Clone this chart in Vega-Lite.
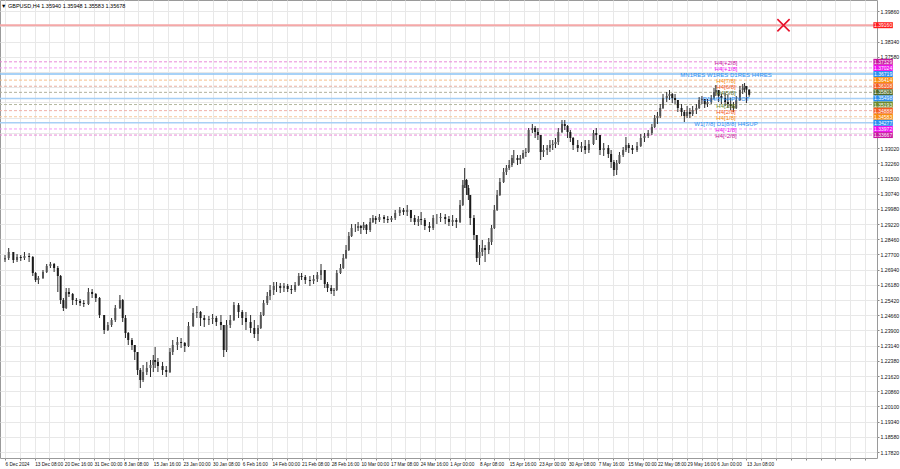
{
  "$schema": "https://vega.github.io/schema/vega-lite/v6.json",
  "width": 877,
  "height": 458,
  "autosize": {"type": "none"},
  "padding": {"left": 0, "top": 0, "right": 23, "bottom": 11},
  "background": "#ffffff",
  "config": {"view": {"stroke": "#9a9a9a", "strokeWidth": 1}, "font": "Liberation Sans"},
  "title": {"text": "▼ GBPUSD,H4  1.35940 1.35948 1.35583 1.35678", "anchor": "start", "orient": "top", "offset": -9, "fontSize": 5.5, "fontWeight": "normal", "font": "Liberation Sans", "color": "#000000", "dx": 2},
  "datasets": {
    "bars": [
      {"t":0,"o":1.2745,"h":1.2767,"l":1.2732,"c":1.2752},
      {"t":4,"o":1.2752,"h":1.2802,"l":1.2742,"c":1.2782},
      {"t":9,"o":1.2782,"h":1.2782,"l":1.2727,"c":1.2742},
      {"t":13,"o":1.2742,"h":1.2772,"l":1.2732,"c":1.2757},
      {"t":17,"o":1.2757,"h":1.2767,"l":1.2737,"c":1.2752},
      {"t":21,"o":1.2752,"h":1.2782,"l":1.2742,"c":1.2762},
      {"t":26,"o":1.2762,"h":1.2777,"l":1.2732,"c":1.2757},
      {"t":30,"o":1.2757,"h":1.2762,"l":1.2662,"c":1.2677},
      {"t":33,"o":1.2677,"h":1.2682,"l":1.2632,"c":1.2642},
      {"t":36,"o":1.2642,"h":1.2662,"l":1.2622,"c":1.2652},
      {"t":41,"o":1.2652,"h":1.2692,"l":1.2647,"c":1.2682},
      {"t":45,"o":1.2682,"h":1.2722,"l":1.2677,"c":1.2712},
      {"t":49,"o":1.2712,"h":1.2732,"l":1.2702,"c":1.2722},
      {"t":53,"o":1.2722,"h":1.2727,"l":1.2682,"c":1.2702},
      {"t":57,"o":1.2702,"h":1.2712,"l":1.2582,"c":1.2662},
      {"t":60,"o":1.2662,"h":1.2667,"l":1.2522,"c":1.2542},
      {"t":63,"o":1.2542,"h":1.2552,"l":1.2487,"c":1.2502},
      {"t":66,"o":1.2502,"h":1.2602,"l":1.2497,"c":1.2582},
      {"t":69,"o":1.2582,"h":1.2602,"l":1.2557,"c":1.2572},
      {"t":73,"o":1.2572,"h":1.2577,"l":1.2517,"c":1.2542},
      {"t":77,"o":1.2542,"h":1.2552,"l":1.2517,"c":1.2537},
      {"t":81,"o":1.2537,"h":1.2547,"l":1.2512,"c":1.2527},
      {"t":85,"o":1.2527,"h":1.2542,"l":1.2507,"c":1.2522},
      {"t":90,"o":1.2522,"h":1.2602,"l":1.2517,"c":1.2582},
      {"t":94,"o":1.2582,"h":1.2597,"l":1.2552,"c":1.2572},
      {"t":98,"o":1.2572,"h":1.2577,"l":1.2532,"c":1.2552},
      {"t":102,"o":1.2552,"h":1.2557,"l":1.2452,"c":1.2467},
      {"t":107,"o":1.2467,"h":1.2467,"l":1.2372,"c":1.2392},
      {"t":111,"o":1.2392,"h":1.2432,"l":1.2387,"c":1.2417},
      {"t":115,"o":1.2417,"h":1.2452,"l":1.2407,"c":1.2442},
      {"t":119,"o":1.2442,"h":1.2517,"l":1.2432,"c":1.2502},
      {"t":124,"o":1.2502,"h":1.2567,"l":1.2497,"c":1.2542},
      {"t":127,"o":1.2542,"h":1.2547,"l":1.2432,"c":1.2452},
      {"t":130,"o":1.2452,"h":1.2467,"l":1.2352,"c":1.2377},
      {"t":133,"o":1.2377,"h":1.2382,"l":1.2317,"c":1.2342},
      {"t":137,"o":1.2342,"h":1.2352,"l":1.2292,"c":1.2317},
      {"t":140,"o":1.2317,"h":1.2317,"l":1.2242,"c":1.2282},
      {"t":143,"o":1.2282,"h":1.2282,"l":1.2167,"c":1.2192},
      {"t":146,"o":1.2192,"h":1.2202,"l":1.2102,"c":1.2142},
      {"t":149,"o":1.2142,"h":1.2217,"l":1.2132,"c":1.2182},
      {"t":153,"o":1.2182,"h":1.2232,"l":1.2167,"c":1.2202},
      {"t":157,"o":1.2202,"h":1.2242,"l":1.2157,"c":1.2217},
      {"t":160,"o":1.2217,"h":1.2267,"l":1.2182,"c":1.2242},
      {"t":162,"o":1.2242,"h":1.2307,"l":1.2202,"c":1.2232},
      {"t":165,"o":1.2232,"h":1.2252,"l":1.2182,"c":1.2212},
      {"t":170,"o":1.2212,"h":1.2232,"l":1.2167,"c":1.2192},
      {"t":174,"o":1.2192,"h":1.2212,"l":1.2157,"c":1.2182},
      {"t":178,"o":1.2182,"h":1.2302,"l":1.2177,"c":1.2282},
      {"t":181,"o":1.2282,"h":1.2342,"l":1.2267,"c":1.2317},
      {"t":186,"o":1.2317,"h":1.2357,"l":1.2292,"c":1.2332},
      {"t":190,"o":1.2332,"h":1.2352,"l":1.2302,"c":1.2327},
      {"t":194,"o":1.2327,"h":1.2332,"l":1.2282,"c":1.2312},
      {"t":198,"o":1.2312,"h":1.2432,"l":1.2307,"c":1.2412},
      {"t":203,"o":1.2412,"h":1.2502,"l":1.2407,"c":1.2477},
      {"t":207,"o":1.2477,"h":1.2512,"l":1.2452,"c":1.2482},
      {"t":211,"o":1.2482,"h":1.2487,"l":1.2412,"c":1.2452},
      {"t":215,"o":1.2452,"h":1.2467,"l":1.2407,"c":1.2442},
      {"t":220,"o":1.2442,"h":1.2462,"l":1.2417,"c":1.2447},
      {"t":224,"o":1.2447,"h":1.2472,"l":1.2422,"c":1.2452},
      {"t":228,"o":1.2452,"h":1.2462,"l":1.2412,"c":1.2432},
      {"t":233,"o":1.2432,"h":1.2467,"l":1.2392,"c":1.2417},
      {"t":236,"o":1.2417,"h":1.2417,"l":1.2257,"c":1.2292},
      {"t":239,"o":1.2292,"h":1.2442,"l":1.2282,"c":1.2417},
      {"t":243,"o":1.2417,"h":1.2467,"l":1.2402,"c":1.2442},
      {"t":247,"o":1.2442,"h":1.2532,"l":1.2437,"c":1.2517},
      {"t":252,"o":1.2517,"h":1.2527,"l":1.2452,"c":1.2482},
      {"t":256,"o":1.2482,"h":1.2492,"l":1.2417,"c":1.2452},
      {"t":260,"o":1.2452,"h":1.2482,"l":1.2392,"c":1.2432},
      {"t":265,"o":1.2432,"h":1.2467,"l":1.2377,"c":1.2402},
      {"t":269,"o":1.2402,"h":1.2442,"l":1.2352,"c":1.2372},
      {"t":273,"o":1.2372,"h":1.2417,"l":1.2337,"c":1.2402},
      {"t":276,"o":1.2402,"h":1.2482,"l":1.2397,"c":1.2467},
      {"t":279,"o":1.2467,"h":1.2542,"l":1.2462,"c":1.2527},
      {"t":283,"o":1.2527,"h":1.2582,"l":1.2517,"c":1.2562},
      {"t":286,"o":1.2562,"h":1.2617,"l":1.2542,"c":1.2592},
      {"t":290,"o":1.2592,"h":1.2632,"l":1.2567,"c":1.2612},
      {"t":293,"o":1.2612,"h":1.2632,"l":1.2582,"c":1.2612},
      {"t":297,"o":1.2612,"h":1.2627,"l":1.2577,"c":1.2602},
      {"t":301,"o":1.2602,"h":1.2627,"l":1.2582,"c":1.2612},
      {"t":305,"o":1.2612,"h":1.2622,"l":1.2582,"c":1.2597},
      {"t":309,"o":1.2597,"h":1.2617,"l":1.2572,"c":1.2592},
      {"t":313,"o":1.2592,"h":1.2632,"l":1.2582,"c":1.2617},
      {"t":317,"o":1.2617,"h":1.2677,"l":1.2612,"c":1.2662},
      {"t":320,"o":1.2662,"h":1.2677,"l":1.2642,"c":1.2657},
      {"t":324,"o":1.2657,"h":1.2667,"l":1.2622,"c":1.2642},
      {"t":329,"o":1.2642,"h":1.2662,"l":1.2612,"c":1.2637},
      {"t":333,"o":1.2637,"h":1.2667,"l":1.2622,"c":1.2647},
      {"t":337,"o":1.2647,"h":1.2682,"l":1.2632,"c":1.2667},
      {"t":341,"o":1.2667,"h":1.2722,"l":1.2642,"c":1.2692},
      {"t":345,"o":1.2692,"h":1.2692,"l":1.2602,"c":1.2622},
      {"t":348,"o":1.2622,"h":1.2632,"l":1.2582,"c":1.2602},
      {"t":352,"o":1.2602,"h":1.2617,"l":1.2572,"c":1.2587},
      {"t":355,"o":1.2587,"h":1.2602,"l":1.2562,"c":1.2592},
      {"t":358,"o":1.2592,"h":1.2692,"l":1.2587,"c":1.2677},
      {"t":362,"o":1.2677,"h":1.2722,"l":1.2672,"c":1.2702},
      {"t":365,"o":1.2702,"h":1.2772,"l":1.2697,"c":1.2752},
      {"t":368,"o":1.2752,"h":1.2817,"l":1.2747,"c":1.2792},
      {"t":371,"o":1.2792,"h":1.2882,"l":1.2787,"c":1.2862},
      {"t":374,"o":1.2862,"h":1.2922,"l":1.2857,"c":1.2902},
      {"t":378,"o":1.2902,"h":1.2922,"l":1.2882,"c":1.2902},
      {"t":381,"o":1.2902,"h":1.2932,"l":1.2887,"c":1.2912},
      {"t":384,"o":1.2912,"h":1.2917,"l":1.2872,"c":1.2902},
      {"t":387,"o":1.2902,"h":1.2932,"l":1.2892,"c":1.2917},
      {"t":390,"o":1.2917,"h":1.2922,"l":1.2872,"c":1.2892},
      {"t":394,"o":1.2892,"h":1.2952,"l":1.2882,"c":1.2932},
      {"t":397,"o":1.2932,"h":1.2967,"l":1.2927,"c":1.2952},
      {"t":400,"o":1.2952,"h":1.2962,"l":1.2922,"c":1.2942},
      {"t":404,"o":1.2942,"h":1.2972,"l":1.2932,"c":1.2957},
      {"t":409,"o":1.2957,"h":1.2967,"l":1.2927,"c":1.2947},
      {"t":413,"o":1.2947,"h":1.2962,"l":1.2927,"c":1.2942},
      {"t":417,"o":1.2942,"h":1.2962,"l":1.2932,"c":1.2952},
      {"t":421,"o":1.2952,"h":1.2992,"l":1.2942,"c":1.2977},
      {"t":426,"o":1.2977,"h":1.3007,"l":1.2962,"c":1.2992},
      {"t":430,"o":1.2992,"h":1.3002,"l":1.2967,"c":1.2982},
      {"t":434,"o":1.2982,"h":1.3017,"l":1.2962,"c":1.2992},
      {"t":438,"o":1.2992,"h":1.2992,"l":1.2932,"c":1.2952},
      {"t":442,"o":1.2952,"h":1.2967,"l":1.2917,"c":1.2932},
      {"t":446,"o":1.2932,"h":1.2962,"l":1.2912,"c":1.2947},
      {"t":449,"o":1.2947,"h":1.2982,"l":1.2917,"c":1.2942},
      {"t":453,"o":1.2942,"h":1.2952,"l":1.2892,"c":1.2912},
      {"t":458,"o":1.2912,"h":1.2932,"l":1.2882,"c":1.2902},
      {"t":462,"o":1.2902,"h":1.2967,"l":1.2892,"c":1.2952},
      {"t":466,"o":1.2952,"h":1.2972,"l":1.2922,"c":1.2952},
      {"t":470,"o":1.2952,"h":1.2977,"l":1.2932,"c":1.2957},
      {"t":475,"o":1.2957,"h":1.2972,"l":1.2922,"c":1.2947},
      {"t":479,"o":1.2947,"h":1.2962,"l":1.2912,"c":1.2932},
      {"t":483,"o":1.2932,"h":1.2967,"l":1.2912,"c":1.2942},
      {"t":487,"o":1.2942,"h":1.2952,"l":1.2902,"c":1.2932},
      {"t":491,"o":1.2932,"h":1.3042,"l":1.2927,"c":1.3017},
      {"t":494,"o":1.3017,"h":1.3142,"l":1.3012,"c":1.3117},
      {"t":496,"o":1.3117,"h":1.3202,"l":1.3102,"c":1.3142},
      {"t":498,"o":1.3142,"h":1.3147,"l":1.3067,"c":1.3102},
      {"t":500,"o":1.3102,"h":1.3117,"l":1.3042,"c":1.3067},
      {"t":502,"o":1.3067,"h":1.3067,"l":1.2917,"c":1.2952},
      {"t":506,"o":1.2952,"h":1.2967,"l":1.2842,"c":1.2867},
      {"t":509,"o":1.2867,"h":1.2867,"l":1.2732,"c":1.2752},
      {"t":512,"o":1.2752,"h":1.2817,"l":1.2717,"c":1.2782},
      {"t":515,"o":1.2782,"h":1.2842,"l":1.2762,"c":1.2802},
      {"t":518,"o":1.2802,"h":1.2817,"l":1.2732,"c":1.2792},
      {"t":522,"o":1.2792,"h":1.2852,"l":1.2772,"c":1.2832},
      {"t":525,"o":1.2832,"h":1.2917,"l":1.2817,"c":1.2902},
      {"t":528,"o":1.2902,"h":1.3017,"l":1.2897,"c":1.2992},
      {"t":531,"o":1.2992,"h":1.3092,"l":1.2987,"c":1.3067},
      {"t":534,"o":1.3067,"h":1.3152,"l":1.3062,"c":1.3132},
      {"t":538,"o":1.3132,"h":1.3202,"l":1.3127,"c":1.3182},
      {"t":541,"o":1.3182,"h":1.3217,"l":1.3167,"c":1.3202},
      {"t":544,"o":1.3202,"h":1.3242,"l":1.3192,"c":1.3217},
      {"t":547,"o":1.3217,"h":1.3267,"l":1.3207,"c":1.3252},
      {"t":549,"o":1.3252,"h":1.3292,"l":1.3227,"c":1.3252},
      {"t":553,"o":1.3252,"h":1.3267,"l":1.3217,"c":1.3242},
      {"t":556,"o":1.3242,"h":1.3267,"l":1.3222,"c":1.3252},
      {"t":559,"o":1.3252,"h":1.3292,"l":1.3247,"c":1.3277},
      {"t":562,"o":1.3277,"h":1.3302,"l":1.3257,"c":1.3282},
      {"t":565,"o":1.3282,"h":1.3402,"l":1.3277,"c":1.3392},
      {"t":569,"o":1.3392,"h":1.3422,"l":1.3377,"c":1.3402},
      {"t":572,"o":1.3402,"h":1.3412,"l":1.3352,"c":1.3382},
      {"t":575,"o":1.3382,"h":1.3402,"l":1.3342,"c":1.3367},
      {"t":578,"o":1.3367,"h":1.3367,"l":1.3242,"c":1.3282},
      {"t":581,"o":1.3282,"h":1.3317,"l":1.3257,"c":1.3292},
      {"t":585,"o":1.3292,"h":1.3317,"l":1.3267,"c":1.3302},
      {"t":588,"o":1.3302,"h":1.3342,"l":1.3282,"c":1.3317},
      {"t":591,"o":1.3317,"h":1.3342,"l":1.3292,"c":1.3322},
      {"t":594,"o":1.3322,"h":1.3352,"l":1.3302,"c":1.3332},
      {"t":597,"o":1.3332,"h":1.3402,"l":1.3317,"c":1.3382},
      {"t":601,"o":1.3382,"h":1.3442,"l":1.3377,"c":1.3422},
      {"t":604,"o":1.3422,"h":1.3442,"l":1.3392,"c":1.3412},
      {"t":607,"o":1.3412,"h":1.3417,"l":1.3352,"c":1.3382},
      {"t":610,"o":1.3382,"h":1.3392,"l":1.3332,"c":1.3352},
      {"t":613,"o":1.3352,"h":1.3357,"l":1.3292,"c":1.3317},
      {"t":618,"o":1.3317,"h":1.3342,"l":1.3282,"c":1.3302},
      {"t":622,"o":1.3302,"h":1.3332,"l":1.3282,"c":1.3312},
      {"t":626,"o":1.3312,"h":1.3342,"l":1.3272,"c":1.3292},
      {"t":630,"o":1.3292,"h":1.3342,"l":1.3277,"c":1.3322},
      {"t":635,"o":1.3322,"h":1.3392,"l":1.3317,"c":1.3377},
      {"t":638,"o":1.3377,"h":1.3402,"l":1.3342,"c":1.3367},
      {"t":642,"o":1.3367,"h":1.3367,"l":1.3267,"c":1.3292},
      {"t":646,"o":1.3292,"h":1.3327,"l":1.3262,"c":1.3302},
      {"t":651,"o":1.3302,"h":1.3317,"l":1.3252,"c":1.3272},
      {"t":654,"o":1.3272,"h":1.3292,"l":1.3202,"c":1.3232},
      {"t":657,"o":1.3232,"h":1.3242,"l":1.3162,"c":1.3192},
      {"t":660,"o":1.3192,"h":1.3242,"l":1.3167,"c":1.3227},
      {"t":663,"o":1.3227,"h":1.3282,"l":1.3222,"c":1.3267},
      {"t":667,"o":1.3267,"h":1.3307,"l":1.3257,"c":1.3292},
      {"t":670,"o":1.3292,"h":1.3357,"l":1.3282,"c":1.3317},
      {"t":673,"o":1.3317,"h":1.3327,"l":1.3277,"c":1.3302},
      {"t":677,"o":1.3302,"h":1.3317,"l":1.3272,"c":1.3292},
      {"t":682,"o":1.3292,"h":1.3332,"l":1.3282,"c":1.3312},
      {"t":686,"o":1.3312,"h":1.3372,"l":1.3307,"c":1.3352},
      {"t":690,"o":1.3352,"h":1.3377,"l":1.3332,"c":1.3362},
      {"t":694,"o":1.3362,"h":1.3392,"l":1.3352,"c":1.3377},
      {"t":698,"o":1.3377,"h":1.3422,"l":1.3367,"c":1.3407},
      {"t":701,"o":1.3407,"h":1.3467,"l":1.3402,"c":1.3452},
      {"t":704,"o":1.3452,"h":1.3482,"l":1.3422,"c":1.3462},
      {"t":707,"o":1.3462,"h":1.3522,"l":1.3452,"c":1.3502},
      {"t":710,"o":1.3502,"h":1.3572,"l":1.3497,"c":1.3552},
      {"t":714,"o":1.3552,"h":1.3582,"l":1.3532,"c":1.3562},
      {"t":717,"o":1.3562,"h":1.3592,"l":1.3542,"c":1.3572},
      {"t":720,"o":1.3572,"h":1.3577,"l":1.3527,"c":1.3552},
      {"t":723,"o":1.3552,"h":1.3572,"l":1.3522,"c":1.3542},
      {"t":726,"o":1.3542,"h":1.3542,"l":1.3482,"c":1.3502},
      {"t":730,"o":1.3502,"h":1.3522,"l":1.3462,"c":1.3482},
      {"t":733,"o":1.3482,"h":1.3492,"l":1.3432,"c":1.3462},
      {"t":736,"o":1.3462,"h":1.3512,"l":1.3452,"c":1.3482},
      {"t":739,"o":1.3482,"h":1.3502,"l":1.3452,"c":1.3472},
      {"t":742,"o":1.3472,"h":1.3512,"l":1.3462,"c":1.3492},
      {"t":746,"o":1.3492,"h":1.3522,"l":1.3472,"c":1.3502},
      {"t":749,"o":1.3502,"h":1.3557,"l":1.3497,"c":1.3542},
      {"t":752,"o":1.3542,"h":1.3562,"l":1.3522,"c":1.3547},
      {"t":755,"o":1.3547,"h":1.3547,"l":1.3502,"c":1.3522},
      {"t":758,"o":1.3522,"h":1.3547,"l":1.3507,"c":1.3532},
      {"t":762,"o":1.3532,"h":1.3567,"l":1.3522,"c":1.3552},
      {"t":765,"o":1.3552,"h":1.3602,"l":1.3547,"c":1.3582},
      {"t":767,"o":1.3582,"h":1.3617,"l":1.3562,"c":1.3592},
      {"t":770,"o":1.3592,"h":1.3592,"l":1.3532,"c":1.3562},
      {"t":773,"o":1.3562,"h":1.3572,"l":1.3522,"c":1.3552},
      {"t":777,"o":1.3552,"h":1.3577,"l":1.3512,"c":1.3532},
      {"t":780,"o":1.3532,"h":1.3567,"l":1.3502,"c":1.3522},
      {"t":783,"o":1.3522,"h":1.3552,"l":1.3492,"c":1.3512},
      {"t":786,"o":1.3512,"h":1.3532,"l":1.3482,"c":1.3502},
      {"t":789,"o":1.3502,"h":1.3562,"l":1.3497,"c":1.3542},
      {"t":793,"o":1.3542,"h":1.3612,"l":1.3537,"c":1.3592},
      {"t":796,"o":1.3592,"h":1.3622,"l":1.3572,"c":1.3602},
      {"t":798,"o":1.3602,"h":1.3627,"l":1.3582,"c":1.3612},
      {"t":800,"o":1.3612,"h":1.3612,"l":1.3527,"c":1.3594},
      {"t":803,"o":1.3594,"h":1.35948,"l":1.35583,"c":1.35678}
    ],
    "levels": [
      {"p":1.3916,"lv":"1.39160","name":"","kind":"red"},
      {"p":1.37329,"lv":"1.37329","name":"H4[+2/8]","kind":"dash"},
      {"p":1.37024,"lv":"1.37024","name":"H4[+1/8]","kind":"dash"},
      {"p":1.36719,"lv":"1.36719","name":"MN1RES W1RES D1RES H4RES","kind":"solid"},
      {"p":1.36414,"lv":"1.36414","name":"H4[7/8]","kind":"dash"},
      {"p":1.36108,"lv":"1.36108","name":"H4[6/8]","kind":"dash"},
      {"p":1.35803,"lv":"1.35803","name":"H4[5/8]","kind":"dash"},
      {"p":1.35498,"lv":"1.35498","name":"D1[4/8] H4PIVOT","kind":"solid"},
      {"p":1.35193,"lv":"1.35193","name":"H4[3/8]","kind":"dash"},
      {"p":1.34888,"lv":"1.34888","name":"H4[2/8]","kind":"dash"},
      {"p":1.34583,"lv":"1.34583","name":"H4[1/8]","kind":"dash"},
      {"p":1.34277,"lv":"1.34277","name":"W1[7/8] D1[8/8] H4SUP","kind":"solid"},
      {"p":1.33972,"lv":"1.33972","name":"H4[-1/8]","kind":"dash"},
      {"p":1.33667,"lv":"1.33667","name":"H4[-2/8]","kind":"dash"}
    ],
    "marker": [{"t":840,"p":1.3916}]
  },
  "layer": [
    {
      "data": {"name": "levels"},
      "mark": {"type": "rule"},
      "encoding": {
        "y": {"field": "p", "type": "quantitative",
          "scale": {"domain": [1.1752, 1.4042], "nice": false, "zero": false},
          "axis": {
            "orient": "right", "title": null, "domain": false, "tickCount": 200,
            "values": [1.1782,1.1858,1.1934,1.2010,1.2086,1.2162,1.2238,1.2314,1.2390,1.2466,1.2542,1.2618,1.2694,1.2770,1.2846,1.2922,1.2998,1.3074,1.3150,1.3226,1.3302,1.3378,1.3454,1.3530,1.3606,1.3682,1.3758,1.3834,1.3910,1.3986],
            "labelExpr": "indexof(['1.33780','1.34540','1.35300','1.36060','1.36820','1.39100'], format(datum.value, '.5f')) >= 0 ? '' : format(datum.value, '.5f')",
            "grid": true, "gridColor": "#e8e8e8", "gridWidth": 1,
            "ticks": true, "tickSize": 2, "tickColor": "#888888",
            "labelFontSize": 5.2, "labelColor": "#111111", "labelPadding": 1,
            "labelOverlap": false, "labelFlush": false, "labelBound": false
          }
        },
        "stroke": {"field": "lv", "type": "nominal", "legend": null,
          "scale": {"domain": ["1.39160","1.37329","1.37024","1.36719","1.36414","1.36108","1.35803","1.35498","1.35193","1.34888","1.34583","1.34277","1.33972","1.33667"],
            "range": ["#f5a8a8","#e88ad8","#f59af5","#8cc4f5","#f7c08c","#e8b0a0","#b0b09a","#a8d0f5","#b4b8a0","#f0b0a8","#f8c89c","#a8d0f5","#f59af5","#e88ad8"]}},
        "strokeDash": {"field": "kind", "type": "nominal", "legend": null,
          "scale": {"domain": ["dash","solid","red"], "range": [[3,2],[1,0],[1,0]]}},
        "strokeWidth": {"field": "kind", "type": "nominal", "legend": null,
          "scale": {"domain": ["dash","solid","red"], "range": [1,2,1]}}
      }
    },
    {
      "data": {"name": "bars"},
      "mark": {"type": "rule", "color": "#2a2a2a", "strokeWidth": 1},
      "encoding": {
        "x": {"field": "t", "type": "quantitative",
          "scale": {"domain": [0, 935.5], "nice": false, "zero": false},
          "axis": {
            "title": null, "domain": false, "tickCount": 200,
            "values": [0,16,32,48,64,80,96,112,128,144,160,176,192,208,224,240,256,272,288,304,320,336,352,368,384,400,416,432,448,464,480,496,512,528,544,560,576,592,608,624,640,656,672,688,704,720,736,752,768,784,800,816,832,848,864,880,896,912,928],
            "labelExpr": "(datum.value % 32 == 0 && datum.value <= 800) ? ['6 Dec 2024','13 Dec 08:00','20 Dec 16:00','31 Dec 00:00','8 Jan 08:00','15 Jan 16:00','23 Jan 00:00','30 Jan 08:00','6 Feb 16:00','14 Feb 00:00','21 Feb 08:00','28 Feb 16:00','10 Mar 00:00','17 Mar 08:00','24 Mar 16:00','1 Apr 00:00','8 Apr 08:00','15 Apr 16:00','23 Apr 00:00','30 Apr 08:00','7 May 16:00','15 May 00:00','22 May 08:00','29 May 16:00','6 Jun 00:00','13 Jun 08:00'][datum.value / 32] : ''",
            "grid": true, "gridColor": "#e8e8e8", "gridWidth": 1,
            "ticks": true, "tickSize": 2, "tickColor": "#888888",
            "labelAlign": "left", "labelFontSize": 4.7, "labelColor": "#111111", "labelPadding": 1,
            "labelOverlap": false, "labelFlush": false, "labelBound": false
          }
        },
        "y": {"field": "l", "type": "quantitative"},
        "y2": {"field": "h"}
      }
    },
    {
      "data": {"name": "bars"},
      "mark": {"type": "bar", "width": 2},
      "encoding": {
        "x": {"field": "t", "type": "quantitative"},
        "y": {"field": "o", "type": "quantitative"},
        "y2": {"field": "c"},
        "color": {"condition": {"test": "datum.c >= datum.o", "value": "#555555"}, "value": "#1a1a1a"}
      }
    },
    {
      "data": {"name": "levels"},
      "mark": {"type": "text", "fontSize": 6, "align": "center", "baseline": "middle", "dy": 1, "font": "Liberation Sans"},
      "encoding": {
        "x": {"datum": 778, "type": "quantitative"},
        "y": {"field": "p", "type": "quantitative"},
        "text": {"field": "name"},
        "color": {"field": "lv", "type": "nominal", "legend": null,
          "scale": {"domain": ["1.39160","1.37329","1.37024","1.36719","1.36414","1.36108","1.35803","1.35498","1.35193","1.34888","1.34583","1.34277","1.33972","1.33667"],
            "range": ["#ff1a1a","#c8189e","#ee10ee","#2b8ef0","#f88c10","#f45a20","#4f6a28","#2b8ef0","#6b8a2c","#f45a20","#f88c10","#2b8ef0","#ee10ee","#c8189e"]}}
      }
    },
    {
      "data": {"name": "levels"},
      "mark": {"type": "rule", "strokeWidth": 6, "strokeCap": "butt"},
      "encoding": {
        "x": {"datum": 937, "type": "quantitative"},
        "x2": {"datum": 958},
        "y": {"field": "p", "type": "quantitative"},
        "color": {"field": "lv", "type": "nominal", "legend": null}
      }
    },
    {
      "data": {"name": "levels"},
      "mark": {"type": "text", "fontSize": 5, "align": "center", "baseline": "middle", "color": "#ffffff", "font": "Liberation Sans"},
      "encoding": {
        "x": {"datum": 947.5, "type": "quantitative"},
        "y": {"field": "p", "type": "quantitative"},
        "text": {"field": "lv"}
      }
    },
    {
      "data": {"name": "marker"},
      "mark": {"type": "point", "shape": "M-1,-1L1,1M-1,1L1,-1", "size": 150, "filled": false, "stroke": "#e8102a", "strokeWidth": 1.6, "opacity": 1},
      "encoding": {
        "x": {"field": "t", "type": "quantitative"},
        "y": {"field": "p", "type": "quantitative"}
      }
    }
  ]
}
